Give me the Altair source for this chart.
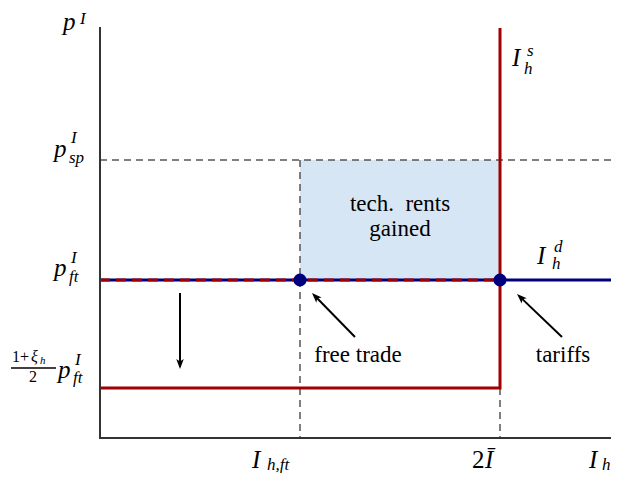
import math
import altair as alt
import pandas as pd

FONT = "Liberation Serif, DejaVu Serif, serif"
RED = "#a00000"
NAVY = "#00007f"
FILL = "#d7e6f4"
GRAY = "#555555"
AXC = "#333333"

# ---- chart values (conceptual economics diagram) ----
I_ft = 1.0        # free-trade quantity
I_bar2 = 2.0      # 2 * I-bar (vertical supply)
x_max = 2.555
p_low = 1.25      # (1+xi_h)/2 * p_ft
p_ft = 3.95       # free-trade price
p_sp = 6.95       # social-planner price
y_max = 10.25

supply_x = [0.0, I_bar2, I_bar2]
supply_y = [p_low, p_low, y_max]
demand_x = [0.0, x_max]
demand_y = [p_ft, p_ft]
overlay_x = [0.0, I_bar2]
overlay_y = [p_ft, p_ft]
eq_x = [I_ft, I_bar2]
eq_y = [p_ft, p_ft]

W, H = 511, 410
PX_X = W / x_max      # pixels per x unit
PX_Y = H / y_max      # pixels per y unit

xs = alt.Scale(domain=[0, x_max], nice=False, zero=False)
ys = alt.Scale(domain=[0, y_max], nice=False, zero=False)

one = pd.DataFrame({"k": [0]})


def XF(f):
    return alt.X(f, type="quantitative", scale=xs, axis=None)


def YF(f):
    return alt.Y(f, type="quantitative", scale=ys, axis=None)


def XD(v):
    return alt.XDatum(v, type="quantitative", scale=xs, axis=None)


def YD(v):
    return alt.YDatum(v, type="quantitative", scale=ys, axis=None)


# shaded rents rectangle
rect = alt.Chart(one).mark_rect(color=FILL).encode(
    x=XD(I_ft), x2=alt.X2Datum(I_bar2), y=YD(p_ft), y2=alt.Y2Datum(p_sp)
)

# dashed guide lines
guides = pd.DataFrame({
    "x": [0.0, I_ft, I_bar2],
    "x2": [x_max, I_ft, I_bar2],
    "y": [p_sp, p_sp, p_sp],
    "y2": [p_sp, 0.0, 0.0],
})
guide = alt.Chart(guides).mark_rule(
    color=GRAY, strokeWidth=1.5, strokeDash=[7, 5]
).encode(x=XF("x"), x2="x2:Q", y=YF("y"), y2="y2:Q")

supply_df = pd.DataFrame({"x": supply_x, "y": supply_y, "o": [0, 1, 2]})
supply = alt.Chart(supply_df).mark_line(
    color=RED, strokeWidth=3, strokeJoin="miter"
).encode(x=XF("x"), y=YF("y"), order="o:Q")

demand_df = pd.DataFrame({"x": demand_x, "y": demand_y})
demand = alt.Chart(demand_df).mark_line(color=NAVY, strokeWidth=3).encode(
    x=XF("x"), y=YF("y")
)

overlay_df = pd.DataFrame({"x": overlay_x, "y": overlay_y})
overlay = alt.Chart(overlay_df).mark_line(
    color=RED, strokeWidth=3, strokeDash=[10, 6]
).encode(x=XF("x"), y=YF("y"))

eq_df = pd.DataFrame({"x": eq_x, "y": eq_y})
eq = alt.Chart(eq_df).mark_circle(size=170, color=NAVY, opacity=1).encode(
    x=XF("x"), y=YF("y")
)

# axes lines
axes_df = pd.DataFrame({"x": [0.0, 0.0], "x2": [0.0, x_max],
                        "y": [0.0, 0.0], "y2": [y_max, 0.0]})
axes = alt.Chart(axes_df).mark_rule(color=AXC, strokeWidth=2, strokeCap="square").encode(
    x=XF("x"), x2="x2:Q", y=YF("y"), y2="y2:Q"
)

# annotation arrows: (anchor, tail offset, tip offset) with offsets in pixels
arrow_specs = [
    (I_ft, p_ft, 55, 57, 12, 13),
    (I_bar2, p_ft, 62, 57, 17, 14),
    (0.4, p_ft, 0, 13, 0, 89),
]
rows, heads = [], []
for ax_, ay_, tdx, tdy, hdx, hdy in arrow_specs:
    tail_x = ax_ + tdx / PX_X
    tail_y = ay_ - tdy / PX_Y
    tip_x = ax_ + hdx / PX_X
    tip_y = ay_ - hdy / PX_Y
    vx, vy = (hdx - tdx), (hdy - tdy)
    L = math.hypot(vx, vy)
    ex = hdx - vx / L * 6
    ey = hdy - vy / L * 6
    rows.append({"x": tail_x, "y": tail_y, "x2": ax_ + ex / PX_X, "y2": ay_ - ey / PX_Y})
    ang = math.degrees(math.atan2(vx, -vy)) % 360
    heads.append({"x": tip_x, "y": tip_y, "a": ang})
arrow_lines = alt.Chart(pd.DataFrame(rows)).mark_rule(color="black", strokeWidth=2).encode(
    x=XF("x"), x2="x2:Q", y=YF("y"), y2="y2:Q"
)
arrow_heads = alt.Chart(pd.DataFrame(heads)).mark_point(
    shape="M0,0 L0.75,2 L0,1.5 L-0.75,2 Z", size=100, filled=True,
    color="black", opacity=1, strokeWidth=0
).encode(x=XF("x"), y=YF("y"), angle=alt.Angle("a:Q", scale=None))


def T(text, ax_, ay_, dx, dy, size, italic=True, align="left"):
    return alt.Chart(one).mark_text(
        text=text, dx=dx, dy=dy, fontSize=size, font=FONT,
        fontStyle="italic" if italic else "normal",
        align=align, baseline="alphabetic", color="black"
    ).encode(x=XD(ax_), y=YD(ay_))


M, S, A = 25, 17, 23
texts = [
    # p^I (axis title)
    T("p", 0, y_max, -37, 2, M), T("I", 0, y_max, -20, -4, S),
    # p^I_sp
    T("p", 0, p_sp, -46, -3, M), T("I", 0, p_sp, -29, -17, S), T("sp", 0, p_sp, -31, 3, S),
    # p^I_ft
    T("p", 0, p_ft, -46, -4, M), T("I", 0, p_ft, -29, -17, S), T("ft", 0, p_ft, -31, 2, S),
    # (1+xi_h)/2 p^I_ft
    T("1+", 0, p_low, -88, -26, 16, italic=False),
    T("ξ", 0, p_low, -69, -26, 16),
    T("h", 0, p_low, -60, -24, 11),
    T("2", 0, p_low, -67, -6, 16, italic=False, align="center"),
    T("p", 0, p_low, -42, -10, M), T("I", 0, p_low, -25, -23, S), T("ft", 0, p_low, -27, -5, S),
    # x labels
    T("I", I_ft, 0, -48, 30, M), T("h,ft", I_ft, 0, -33, 32, S),
    T("2", I_bar2, 0, -28, 30, M, italic=False), T("Ī", I_bar2, 0, -15, 30, M),
    T("I", x_max, 0, -22, 30, M), T("h", x_max, 0, -9, 32, S),
    # curve labels
    T("I", I_bar2, y_max, 12, 38, M), T("s", I_bar2, y_max, 27, 28, S), T("h", I_bar2, y_max, 24, 46, S),
    T("I", I_bar2, p_ft, 37, -16, M), T("d", I_bar2, p_ft, 54, -28, S), T("h", I_bar2, p_ft, 52, -11, S),
    # annotations
    T("tech.\u2002rents", (I_ft + I_bar2) / 2, (p_ft + p_sp) / 2, 0, -9, A, italic=False, align="center"),
    T("gained", (I_ft + I_bar2) / 2, (p_ft + p_sp) / 2, 0, 16, A, italic=False, align="center"),
    T("free trade", I_ft, p_ft, 58, 82, A, italic=False, align="center"),
    T("tariffs", I_bar2, p_ft, 63, 82, A, italic=False, align="center"),
]

frac_bar = alt.Chart(one).mark_rule(color="black", strokeWidth=1.3).encode(
    x=alt.value(-89), x2=alt.value(-44), y=alt.value(340), y2=alt.value(340)
)

chart = alt.layer(
    rect, guide, supply, demand, overlay, arrow_lines, arrow_heads, eq, axes, frac_bar, *texts
).properties(
    width=W, height=H, autosize="none",
    padding={"left": 92, "top": 20, "right": 0, "bottom": 35},
).configure_view(stroke=None)

chart.save("out.html", embed_options={"renderer": "svg", "actions": False})
